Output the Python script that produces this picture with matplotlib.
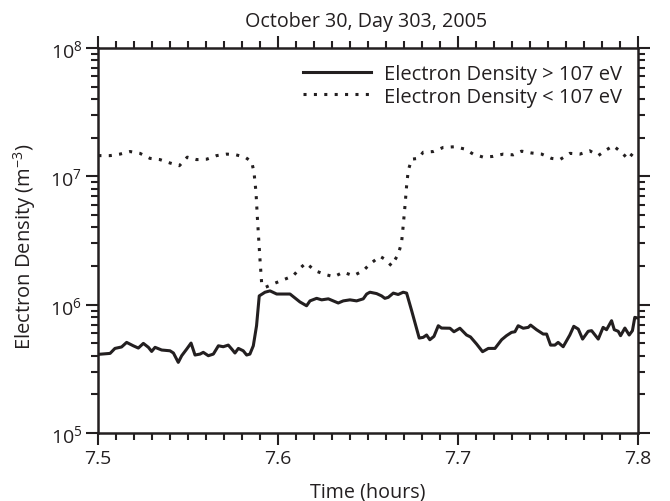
#!/usr/bin/env python

import matplotlib
matplotlib.use('Agg')
import matplotlib.pyplot as plt
from matplotlib.ticker import LogLocator, MultipleLocator, NullFormatter

TITLE = 'October 30, Day 303, 2005'
LABEL_HI = 'Electron Density > 107 eV'
LABEL_LO = 'Electron Density < 107 eV'

# time in hours, density in m^-3
time_hi = [7.5002, 7.5067, 7.5094, 7.5131, 7.5159, 7.5196, 7.5224, 7.5252, 7.5280, 7.5298,
           7.5317, 7.5354, 7.5400, 7.5419, 7.5446, 7.5465, 7.5493, 7.5517, 7.5539, 7.5567,
           7.5585, 7.5613, 7.5641, 7.5669, 7.5696, 7.5724, 7.5743, 7.5761, 7.5780, 7.5807,
           7.5826, 7.5844, 7.5863, 7.5881, 7.5896, 7.5928, 7.5956, 7.5993, 7.6067, 7.6122,
           7.6159, 7.6178, 7.6215, 7.6243, 7.6280, 7.6307, 7.6335, 7.6363, 7.6400, 7.6437,
           7.6474, 7.6493, 7.6511, 7.6548, 7.6576, 7.6594, 7.6613, 7.6641, 7.6668, 7.6696,
           7.6715, 7.6743, 7.6785, 7.6807, 7.6826, 7.6844, 7.6867, 7.6891, 7.6909, 7.6956,
           7.6978, 7.7011, 7.7048, 7.7070, 7.7104, 7.7137, 7.7169, 7.7206, 7.7243, 7.7270,
           7.7298, 7.7317, 7.7335, 7.7363, 7.7391, 7.7404, 7.7437, 7.7474, 7.7493, 7.7515,
           7.7539, 7.7557, 7.7585, 7.7622, 7.7644, 7.7669, 7.7693, 7.7724, 7.7743, 7.7780,
           7.7807, 7.7826, 7.7854, 7.7869, 7.7891, 7.7904, 7.7928, 7.7952, 7.7970, 7.7983,
           7.8002]
dens_hi = [4.10e5, 4.17e5, 4.56e5, 4.68e5, 5.08e5, 4.78e5, 4.59e5, 4.99e5, 4.65e5, 4.32e5,
           4.65e5, 4.43e5, 4.37e5, 4.20e5, 3.55e5, 4.00e5, 4.51e5, 5.02e5, 4.05e5, 4.12e5,
           4.25e5, 4.00e5, 4.12e5, 4.78e5, 4.70e5, 4.84e5, 4.51e5, 4.20e5, 4.56e5, 4.37e5,
           4.05e5, 4.12e5, 4.78e5, 6.85e5, 1.17e6, 1.25e6, 1.28e6, 1.21e6, 1.21e6, 1.05e6,
           9.80e5, 1.07e6, 1.12e6, 1.09e6, 1.11e6, 1.07e6, 1.03e6, 1.07e6, 1.09e6, 1.07e6,
           1.11e6, 1.21e6, 1.25e6, 1.22e6, 1.17e6, 1.12e6, 1.14e6, 1.23e6, 1.20e6, 1.25e6,
           1.23e6, 8.97e5, 5.49e5, 5.56e5, 5.80e5, 5.33e5, 5.66e5, 6.85e5, 6.57e5, 6.55e5,
           6.15e5, 6.55e5, 5.80e5, 5.60e5, 4.93e5, 4.30e5, 4.56e5, 4.56e5, 5.33e5, 5.73e5,
           6.08e5, 6.15e5, 6.85e5, 6.55e5, 6.65e5, 6.93e5, 6.38e5, 5.90e5, 5.90e5, 4.84e5,
           4.84e5, 5.08e5, 4.70e5, 5.80e5, 6.78e5, 6.45e5, 5.39e5, 6.20e5, 6.27e5, 5.39e5,
           6.65e5, 6.38e5, 7.50e5, 6.38e5, 6.20e5, 5.73e5, 6.57e5, 5.80e5, 6.27e5, 7.96e5,
           7.85e5]

time_lo = [7.5002, 7.5067, 7.5122, 7.5178, 7.5233, 7.5289, 7.5344, 7.5400, 7.5452, 7.5496,
           7.5548, 7.5604, 7.5659, 7.5715, 7.5767, 7.5817, 7.5854, 7.5867, 7.5878, 7.5885,
           7.5893, 7.5900, 7.5909, 7.5928, 7.5983, 7.6039, 7.6085, 7.6122, 7.6156, 7.6206,
           7.6261, 7.6311, 7.6363, 7.6419, 7.6474, 7.6511, 7.6567, 7.6594, 7.6631, 7.6669,
           7.6687, 7.6696, 7.6706, 7.6715, 7.6724, 7.6743, 7.6780, 7.6807, 7.6863, 7.6919,
           7.6983, 7.7039, 7.7085, 7.7141, 7.7196, 7.7252, 7.7307, 7.7354, 7.7409, 7.7465,
           7.7520, 7.7567, 7.7622, 7.7678, 7.7733, 7.7780, 7.7826, 7.7863, 7.7909, 7.7946,
           7.7983, 7.8002]
dens_lo = [1.45e7, 1.45e7, 1.49e7, 1.56e7, 1.51e7, 1.38e7, 1.35e7, 1.27e7, 1.21e7, 1.41e7,
           1.35e7, 1.36e7, 1.45e7, 1.49e7, 1.47e7, 1.41e7, 1.30e7, 1.07e7, 7.50e6, 4.93e6,
           3.24e6, 2.26e6, 1.49e6, 1.36e6, 1.47e6, 1.58e6, 1.68e6, 1.92e6, 2.11e6, 1.84e6,
           1.72e6, 1.65e6, 1.79e6, 1.68e6, 1.84e6, 2.07e6, 2.38e6, 2.26e6, 2.01e6, 2.48e6,
           3.05e6, 4.12e6, 5.90e6, 8.45e6, 1.11e7, 1.36e7, 1.38e7, 1.54e7, 1.56e7, 1.68e7,
           1.70e7, 1.63e7, 1.49e7, 1.41e7, 1.43e7, 1.49e7, 1.47e7, 1.57e7, 1.52e7, 1.49e7,
           1.38e7, 1.35e7, 1.51e7, 1.49e7, 1.58e7, 1.45e7, 1.61e7, 1.73e7, 1.54e7, 1.36e7,
           1.58e7, 1.56e7]

plt.rcParams['font.family'] = ['Open Sans', 'DejaVu Sans']
plt.rcParams['mathtext.fontset'] = 'custom'
plt.rcParams['mathtext.rm'] = 'Open Sans'
plt.rcParams['mathtext.it'] = 'Open Sans'
plt.rcParams['mathtext.bf'] = 'Open Sans'

INK = '#231f20'


def main() -> None:
    fig = plt.figure(figsize=(6.7, 5.02), dpi=100)
    ax = fig.add_axes([0.1463, 0.1355, 0.8057, 0.7669])

    ax.plot(time_hi, dens_hi, color=INK, lw=2.2, ls='-', label=LABEL_HI)
    ax.plot(time_lo, dens_lo, color=INK, lw=2.2, ls=(0, (1, 2.4)), label=LABEL_LO)

    ax.set_yscale('log')
    ax.set_xlim(7.5, 7.8)
    ax.set_ylim(1e5, 1e8)
    ax.xaxis.set_major_locator(MultipleLocator(0.1))
    ax.xaxis.set_minor_locator(MultipleLocator(0.01))
    ax.yaxis.set_major_locator(LogLocator(base=10, numticks=10))
    ax.yaxis.set_minor_locator(LogLocator(base=10, subs=range(2, 10), numticks=10))
    ax.yaxis.set_minor_formatter(NullFormatter())

    for s in ax.spines.values():
        s.set_linewidth(1.8)
        s.set_color(INK)
    ax.tick_params(which='both', direction='out', top=True, right=True,
                   color=INK, width=1.5, labelsize=14, labelcolor=INK)
    ax.tick_params(which='major', length=8.5, pad=3)
    ax.tick_params(which='minor', length=5)

    ax.set_xlabel('Time (hours)', fontsize=14.2, color=INK, va='baseline')
    ax.xaxis.set_label_coords(0.5, -0.164)
    ax.set_ylabel('Electron Density (m$^{-3}$)', fontsize=14.5, color=INK)
    ax.yaxis.set_label_coords(-0.111, 0.486)
    fig.text(366 / 670, 1 - 27 / 502, TITLE, ha='center', va='baseline',
             fontsize=14.2, color=INK)

    ax.legend(loc='upper right', frameon=False, fontsize=14.5, handlelength=3.35,
              handletextpad=0.65, labelspacing=0.12, borderaxespad=0.4, labelcolor=INK)

    fig.savefig('out.png', dpi=100)


if __name__ == '__main__':
    main()
